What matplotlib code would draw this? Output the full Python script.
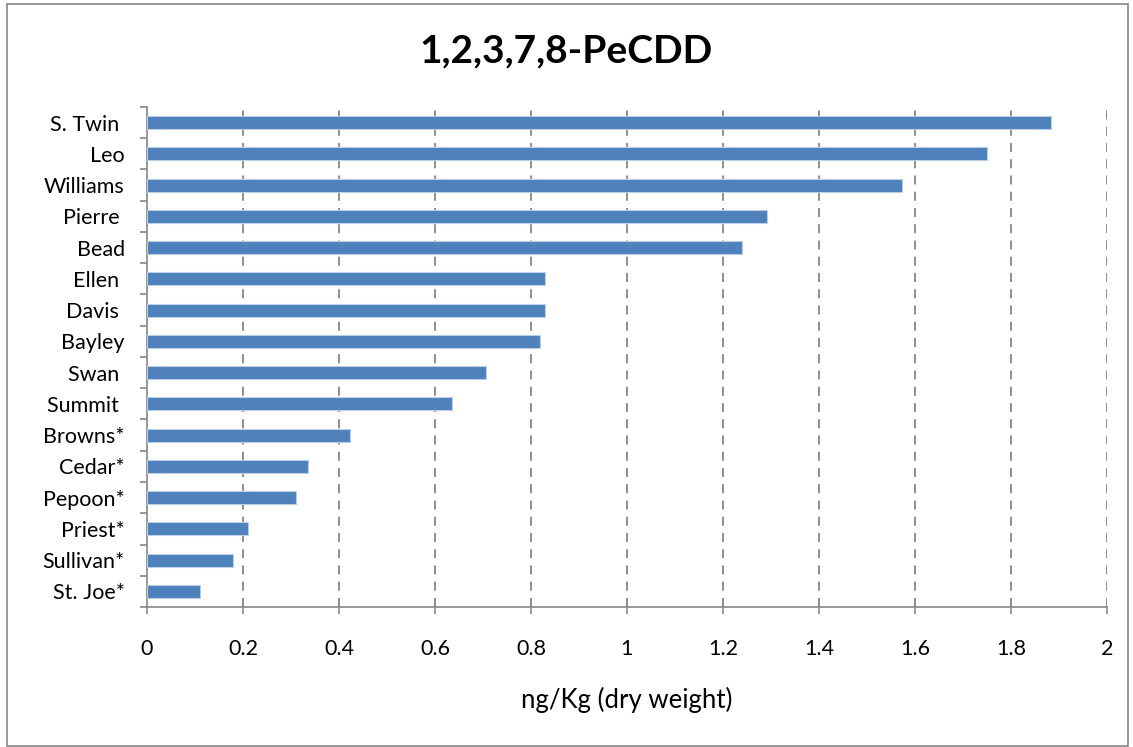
import matplotlib.pyplot as plt
from matplotlib.patches import Rectangle
import numpy as np

plt.rcParams['font.family'] = ['Lato', 'DejaVu Sans']

# Data (top to bottom)
sites = ["S. Twin ", "Leo", "Williams", "Pierre ", "Bead", "Ellen ", "Davis ", "Bayley",
         "Swan ", "Summit ", "Browns*", "Cedar*", "Pepoon*", "Priest*", "Sullivan*", "St. Joe*"]
pecdd = [1.883, 1.751, 1.573, 1.291, 1.240, 0.830, 0.830, 0.819,
         0.706, 0.636, 0.424, 0.335, 0.310, 0.211, 0.180, 0.110]

fig = plt.figure(figsize=(11.33, 7.47), dpi=100)
ax = fig.add_axes([0.1297, 0.1874, 0.8473, 0.6694])

y = np.arange(len(sites))
ax.barh(y, pecdd, height=0.42, color='#4F81BD', edgecolor='#B9CDE5', linewidth=0.8, zorder=3)

ax.set_xlim(0, 2)
ax.set_ylim(len(sites) - 0.5, -0.5)
ax.set_xticks(np.arange(0, 2.01, 0.2))
ax.set_xticklabels(['0', '0.2', '0.4', '0.6', '0.8', '1', '1.2', '1.4', '1.6', '1.8', '2'])
ax.set_yticks(y)
ax.set_yticklabels(sites)
ax.set_yticks(np.arange(-0.5, len(sites), 1), minor=True)

ax.tick_params(axis='y', which='major', length=0, pad=16, labelsize=15.5)
ax.tick_params(axis='y', which='minor', length=5, width=1.2, color='#868686')
ax.tick_params(axis='x', length=5, width=1.2, color='#868686', pad=18, labelsize=15.5)

for x in np.arange(0.2, 2.01, 0.2):
    ax.axvline(x, color='#868686', linestyle=(0, (5, 4)), linewidth=1.3, zorder=1)

for s in ['top', 'right']:
    ax.spines[s].set_visible(False)
for s in ['left', 'bottom']:
    ax.spines[s].set_color('#868686')
    ax.spines[s].set_linewidth(1.2)

ax.set_xlabel('ng/Kg (dry weight)', fontsize=18.5, labelpad=20)
fig.text(0.5, 0.932, '1,2,3,7,8-PeCDD', ha='center', va='center', fontsize=28, fontweight='bold')

fig.patches.append(Rectangle((0.006, 0.002), 0.99, 0.993, transform=fig.transFigure,
                             fill=False, edgecolor='#868686', linewidth=1.2))

fig.savefig('out.png', dpi=100)
